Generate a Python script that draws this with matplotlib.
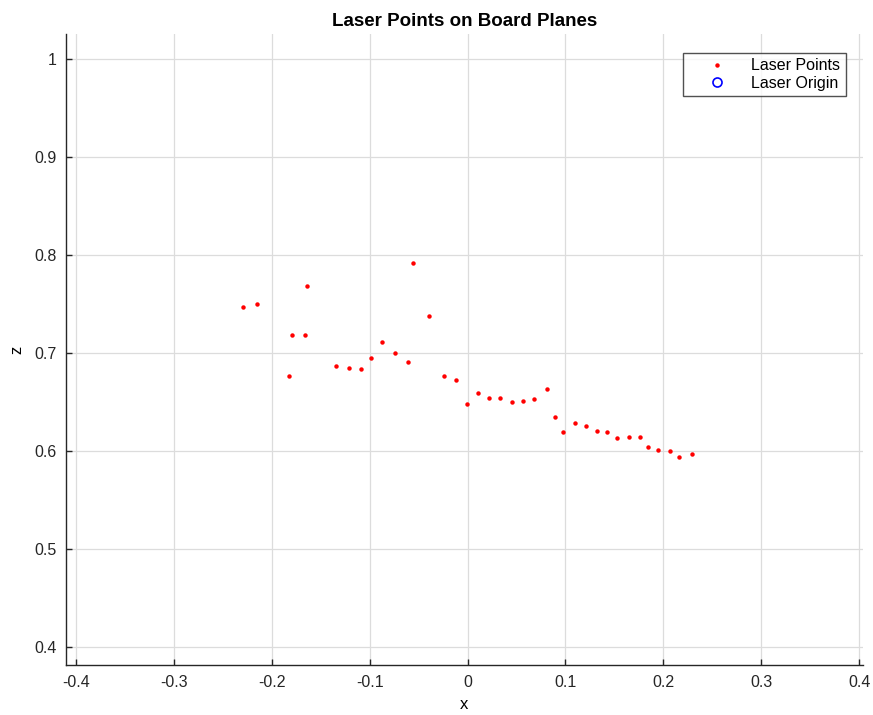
import matplotlib
matplotlib.use("Agg")
import matplotlib.pyplot as plt

plt.rcParams['font.family'] = ['Liberation Sans', 'DejaVu Sans']

laser_x = [-0.2291, -0.2155, -0.164, -0.1797, -0.166, -0.182, -0.134, -0.1211, -0.1086,
           -0.0984, -0.0878, -0.0742, -0.0609, -0.0561, -0.0394, -0.0241, -0.0118,
           -0.0003, 0.0109, 0.0222, 0.0334, 0.045, 0.0566, 0.0681, 0.0808, 0.089,
           0.0978, 0.110, 0.1213, 0.1318, 0.1427, 0.153, 0.1645, 0.1758, 0.1846,
           0.1948, 0.2064, 0.2163, 0.2292]
laser_z = [0.7469, 0.750, 0.7677, 0.718, 0.718, 0.676, 0.6864, 0.6847, 0.6837,
           0.6949, 0.711, 0.700, 0.6905, 0.7912, 0.737, 0.6765, 0.6718,
           0.648, 0.6589, 0.6535, 0.654, 0.6494, 0.6504, 0.653, 0.663, 0.6347,
           0.619, 0.6283, 0.6252, 0.620, 0.6188, 0.6133, 0.6143, 0.6143, 0.6035,
           0.6004, 0.5994, 0.5939, 0.5963]
origin_x = [0.0]
origin_z = [0.0]

xticks = [-0.4, -0.3, -0.2, -0.1, 0, 0.1, 0.2, 0.3, 0.4]
xticklabels = ['-0.4', '-0.3', '-0.2', '-0.1', '0', '0.1', '0.2', '0.3', '0.4']
yticks = [0.4, 0.5, 0.6, 0.7, 0.8, 0.9, 1.0]
yticklabels = ['0.4', '0.5', '0.6', '0.7', '0.8', '0.9', '1']

fig = plt.figure(figsize=(8.73, 7.15), dpi=100)
ax = fig.add_axes([66/873, (715-665.3)/715, (863-66)/873, (665.3-34)/715])

ax.plot(laser_x, laser_z, linestyle='none', marker='o', markersize=3.2,
        color='#ff0000', markeredgewidth=0, label='Laser Points')
ax.plot(origin_x, origin_z, linestyle='none', marker='o', markersize=6.5,
        markerfacecolor='none', markeredgecolor='#0000ff', markeredgewidth=1.2,
        label='Laser Origin')

ax.set_xlim(-0.4102, 0.404)
ax.set_ylim(0.381, 1.025)
ax.set_xticks(xticks)
ax.set_xticklabels(xticklabels)
ax.set_yticks(yticks)
ax.set_yticklabels(yticklabels)

ax.grid(True, color='#dcdcdc', linewidth=0.9)
ax.set_axisbelow(True)
for s in ['top', 'right']:
    ax.spines[s].set_visible(False)
for s in ['left', 'bottom']:
    ax.spines[s].set_color('#262626')
    ax.spines[s].set_linewidth(1.0)
ax.tick_params(direction='in', length=4, width=1.0, colors='#262626',
               labelsize=11.5, labelcolor='#262626', pad=7)

ax.set_title('Laser Points on Board Planes', fontsize=13.5, fontweight='bold', pad=6)
ax.set_xlabel('x', fontsize=12, labelpad=5)
ax.set_ylabel('z', fontsize=12, labelpad=7)

leg = ax.legend(loc='upper right', bbox_to_anchor=(0.9785, 0.9705), fontsize=11.5,
                frameon=True, fancybox=False, edgecolor='#262626',
                handletextpad=0.35, borderpad=0.35, labelspacing=0.15,
                handlelength=3.6, borderaxespad=0.0, markerscale=1.0)
leg.get_frame().set_linewidth(1.0)

fig.savefig('out.png', dpi=100)
